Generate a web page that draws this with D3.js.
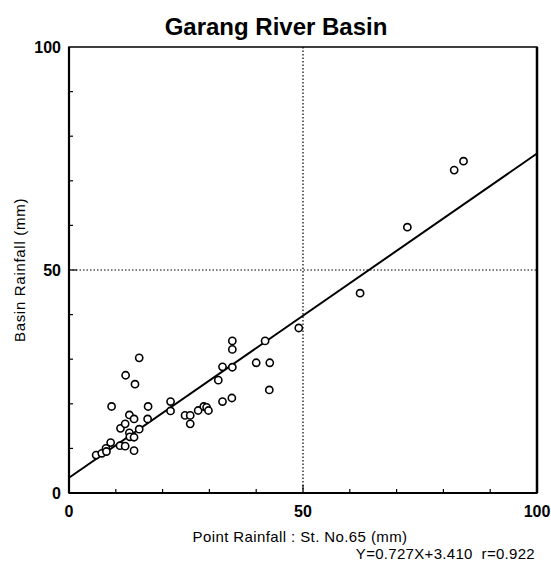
<!DOCTYPE html>
<html>
<head>
<meta charset="utf-8">
<script src="https://cdn.jsdelivr.net/npm/d3@7"></script>
<style>
  body { margin: 0; background: #fff; }
  svg text { font-family: "Liberation Sans", Arial, sans-serif; fill: #000; }
</style>
</head>
<body>
<div id="chart"></div>
<script>
// data
var pointRain = [5.8, 7.0, 7.9, 8.0, 8.9, 9.1, 11.0, 10.9, 12.0, 12.0, 12.1, 12.9, 12.9, 13.0,
  13.9, 13.9, 13.9, 14.1, 15.0, 15.0, 16.9, 16.8, 21.7, 21.7, 24.8, 25.9, 25.9, 27.6, 28.8,
  29.4, 29.8, 31.9, 32.8, 32.8, 34.8, 34.9, 34.9, 34.9, 40.0, 41.9, 42.9, 42.8, 49.1,
  62.2, 72.3, 82.3, 84.3];
var basinRain = [8.5, 8.9, 10.0, 9.3, 11.3, 19.4, 14.5, 10.6, 15.5, 10.5, 26.4, 17.5, 13.5, 12.6,
  16.6, 12.5, 9.5, 24.4, 14.3, 30.3, 19.4, 16.6, 20.5, 18.4, 17.4, 17.4, 15.5, 18.5, 19.4,
  19.2, 18.5, 25.3, 20.5, 28.3, 21.3, 28.2, 32.2, 34.1, 29.2, 34.1, 29.2, 23.1, 37.0,
  44.8, 59.6, 72.4, 74.4];
var slope = 0.727, intercept = 3.410;
var tickLabels = [0, 50, 100];
var minorTicks = [10, 20, 30, 40, 50, 60, 70, 80, 90];

var W = 551, H = 565;
var margin = {top: 47, right: 14, bottom: 72, left: 69},
    width = W - margin.left - margin.right,
    height = H - margin.top - margin.bottom;

var svg = d3.select("#chart").append("svg")
    .attr("width", W)
    .attr("height", H);

var g = svg.append("g")
    .attr("transform", "translate(" + margin.left + "," + margin.top + ")");

var x = d3.scaleLinear().domain([0, 100]).range([0, width]),
    y = d3.scaleLinear().domain([0, 100]).range([height, 0]);

// dotted grid at 50
g.append("line")
    .attr("x1", x(50)).attr("x2", x(50))
    .attr("y1", 0).attr("y2", height)
    .attr("stroke", "#000").attr("stroke-width", 1.2)
    .attr("stroke-dasharray", "1.5,2");
g.append("line")
    .attr("x1", 0).attr("x2", width)
    .attr("y1", y(50)).attr("y2", y(50))
    .attr("stroke", "#000").attr("stroke-width", 1.2)
    .attr("stroke-dasharray", "1.5,2");

// inner ticks
g.selectAll(".ytick").data(minorTicks).enter().append("line")
    .attr("x1", 0).attr("x2", function(d) { return d == 50 ? 8 : 4; })
    .attr("y1", function(d) { return y(d); }).attr("y2", function(d) { return y(d); })
    .attr("stroke", "#000").attr("stroke-width", 1.2);
g.selectAll(".xtick").data(minorTicks).enter().append("line")
    .attr("y1", height).attr("y2", function(d) { return height - (d == 50 ? 8 : 4); })
    .attr("x1", function(d) { return x(d); }).attr("x2", function(d) { return x(d); })
    .attr("stroke", "#000").attr("stroke-width", 1.2);

// frame
g.append("rect")
    .attr("width", width).attr("height", height)
    .attr("fill", "none").attr("stroke", "#000").attr("stroke-width", 1.5);
g.append("line").attr("x1", 0).attr("x2", 0).attr("y1", 0).attr("y2", height)
    .attr("stroke", "#000").attr("stroke-width", 2.2);
g.append("line").attr("x1", width).attr("x2", width).attr("y1", 0).attr("y2", height)
    .attr("stroke", "#000").attr("stroke-width", 2.5);
g.append("line").attr("x1", 0).attr("x2", width).attr("y1", height).attr("y2", height)
    .attr("stroke", "#000").attr("stroke-width", 2);

// regression line
g.append("line")
    .attr("x1", x(0)).attr("y1", y(intercept))
    .attr("x2", x(100)).attr("y2", y(slope * 100 + intercept))
    .attr("stroke", "#000").attr("stroke-width", 2);

// points
g.selectAll(".pt").data(pointRain).enter().append("circle")
    .attr("cx", function(d) { return x(d); })
    .attr("cy", function(d, i) { return y(basinRain[i]); })
    .attr("r", 3.6)
    .attr("fill", "#fff")
    .attr("stroke", "#000")
    .attr("stroke-width", 1.6);

// tick labels
g.selectAll(".xl").data(tickLabels).enter().append("text")
    .attr("x", function(d) { return x(d); })
    .attr("y", height + 24)
    .attr("text-anchor", "middle")
    .style("font-size", "16px").style("font-weight", "bold")
    .text(function(d) { return d; });
g.selectAll(".yl").data(tickLabels).enter().append("text")
    .attr("x", -8)
    .attr("y", function(d) { return y(d) + 6; })
    .attr("text-anchor", "end")
    .style("font-size", "16px").style("font-weight", "bold")
    .text(function(d) { return d; });

// titles
svg.append("text")
    .attr("x", 276).attr("y", 35)
    .attr("text-anchor", "middle")
    .style("font-size", "24px").style("font-weight", "bold")
    .text("Garang River Basin");
svg.append("text")
    .attr("x", 300).attr("y", 542)
    .attr("text-anchor", "middle")
    .style("font-size", "15px").style("letter-spacing", "0.4px")
    .text("Point Rainfall : St. No.65 (mm)");
svg.append("text")
    .attr("x", 535).attr("y", 559)
    .attr("text-anchor", "end")
    .style("font-size", "15px").style("letter-spacing", "0.3px")
    .style("white-space", "pre")
    .text("Y=0.727X+3.410  r=0.922");
svg.append("text")
    .attr("transform", "translate(25,270) rotate(-90)")
    .attr("text-anchor", "middle")
    .style("font-size", "15px").style("letter-spacing", "0.7px")
    .text("Basin Rainfall (mm)");
</script>
</body>
</html>
